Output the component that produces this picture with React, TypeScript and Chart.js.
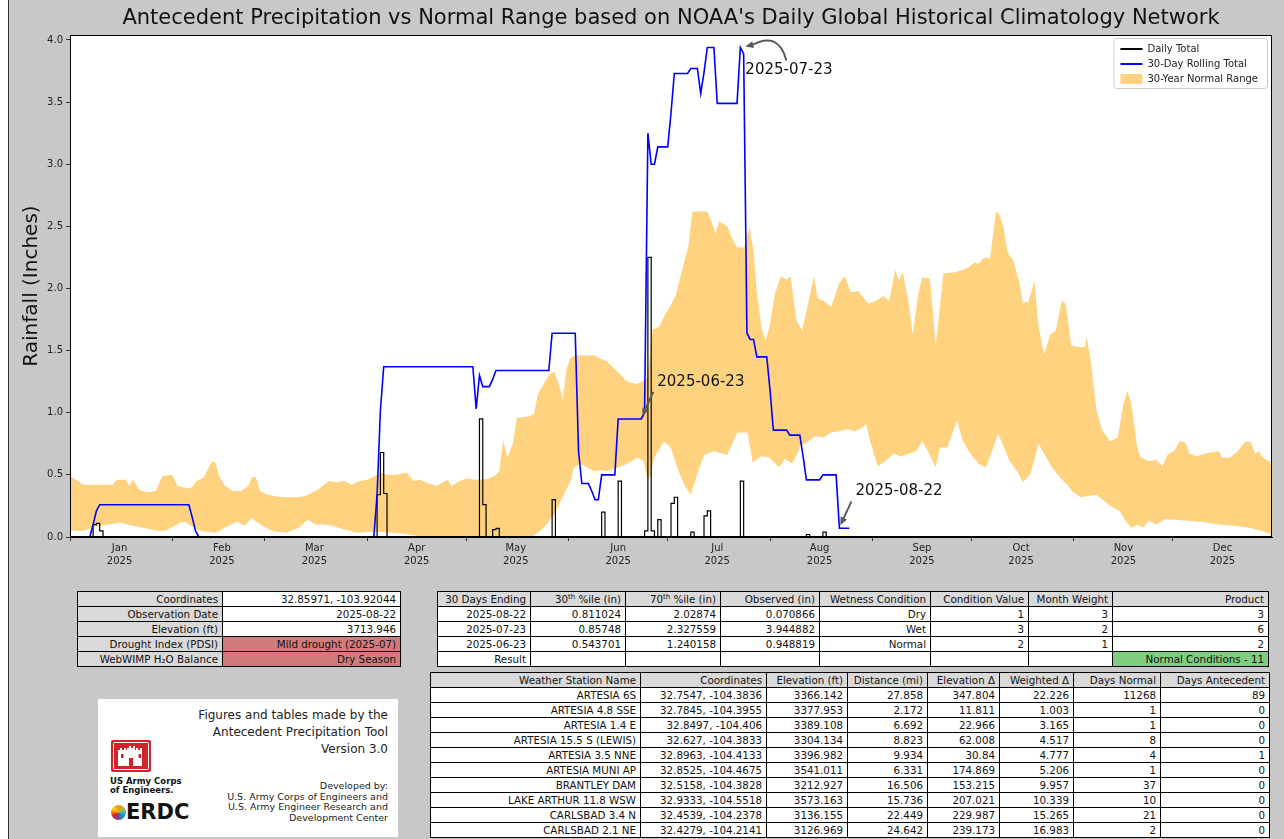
import React, { useEffect, useRef } from "react";
import { Chart, registerables } from "chart.js";
Chart.register(...registerables);

// ---------- chart text ----------
const chartTitle = "Antecedent Precipitation vs Normal Range based on NOAA's Daily Global Historical Climatology Network";
const yAxisTitle = "Rainfall (Inches)";
const monthLabels = ["Jan", "Feb", "Mar", "Apr", "May", "Jun", "Jul", "Aug", "Sep", "Oct", "Nov", "Dec"];
const yearLabel = "2025";
// day-of-year (0 = 2025-01-01)
const monthStartDays = [0, 31, 59, 90, 120, 151, 181, 212, 243, 273, 304, 334];
const monthLabelDays = [15, 46, 74, 105, 135, 166, 196, 227, 258, 288, 319, 349];
const yTickValues = [0, 0.5, 1, 1.5, 2, 2.5, 3, 3.5, 4];
const xMinDay = 0;
const xMaxDay = 364;
const yMax = 4.04;

// ---------- daily total (days with rain; all other days 0) ----------
const lastDataDay = 236;
const rainDays = [7, 8, 9, 93, 94, 95, 124, 125, 128, 129, 146, 161, 166, 174, 175, 176, 178, 182, 183, 188, 192, 193, 203, 223, 228];
const rainAmounts = [0.1, 0.11, 0.05, 0.34, 0.68, 0.35, 0.95, 0.26, 0.06, 0.07, 0.3, 0.2, 0.45, 0.05, 2.25, 0.05, 0.14, 0.27, 0.32, 0.04, 0.17, 0.21, 0.45, 0.02, 0.04];

// ---------- 30-day rolling total (vertices) ----------
const rollingDays = [0, 6, 7, 8, 9, 36, 37, 38, 39, 92, 93, 94, 95, 122, 123, 124, 125, 127, 128, 129, 145, 146, 153, 154, 155, 157, 158, 159, 160, 161, 165, 166, 173, 174, 175, 176, 177, 178, 181, 182, 183, 187, 188, 190, 191, 192, 193, 195, 196, 202, 203, 204, 205, 206, 207, 208, 211, 212, 213, 217, 218, 221, 222, 223, 227, 228, 232, 233, 236];
const rollingValues = [0, 0, 0.1, 0.21, 0.26, 0.26, 0.16, 0.05, 0, 0, 0.34, 1.02, 1.37, 1.37, 1.03, 1.3, 1.21, 1.21, 1.27, 1.34, 1.34, 1.64, 1.64, 0.69, 0.43, 0.43, 0.37, 0.3, 0.3, 0.5, 0.5, 0.95, 0.95, 1.0, 3.25, 3.0, 3.0, 3.14, 3.14, 3.41, 3.73, 3.73, 3.77, 3.77, 3.57, 3.74, 3.94, 3.94, 3.49, 3.49, 3.94, 3.89, 1.64, 1.59, 1.59, 1.45, 1.45, 1.18, 0.86, 0.86, 0.82, 0.82, 0.65, 0.46, 0.46, 0.5, 0.5, 0.07, 0.07];

// ---------- 30-year normal range ----------
const normalUpperDays = [0, 3, 4, 13, 14, 17, 18, 19, 21, 23, 26, 28, 31, 32.5, 34, 36.6, 38.3, 40.6, 41.8, 43, 44, 45.3, 47, 49.3, 51.7, 54, 55, 56.3, 57.5, 60, 64, 69, 71.4, 75, 78.4, 80.7, 83, 85.3, 87.7, 90, 92.3, 94, 96, 99, 102, 104, 106, 108.6, 111, 113, 114.4, 115.5, 118, 120, 122.5, 125, 127, 129, 130, 131.2, 132.4, 134.1, 135.3, 139, 140.5, 141.7, 143.4, 145.2, 146.6, 147.8, 149.3, 150.3, 151.5, 153, 158.7, 162.7, 165.8, 168.8, 171.8, 174.9, 176.4, 178.4, 180.4, 181.8, 183.5, 186, 187.2, 188.5, 193, 194.5, 195.5, 196.6, 199, 200.6, 202, 204.2, 205.7, 207, 208, 209.4, 210.6, 211.8, 213.5, 215.3, 217, 218.2, 220, 221.7, 223.5, 225.3, 226.4, 228.2, 230.5, 232.9, 234.6, 236.4, 238.7, 239.9, 241.7, 244, 246.4, 248.1, 249.9, 251, 252.2, 254, 255.2, 256.9, 258.1, 260.4, 262.2, 263.4, 264.5, 268, 270.4, 272.2, 273.9, 275.1, 276.8, 278.6, 280.4, 281.5, 282.7, 283.9, 285.6, 287.4, 288.6, 290.3, 292.1, 293.3, 295, 296.8, 298.5, 300.3, 301.5, 303.2, 305.6, 307.3, 307.9, 309.1, 310.8, 312.6, 314.9, 317.3, 319, 320.2, 321.4, 323.2, 324.3, 326.7, 329, 330.8, 332.5, 334.3, 336, 337.8, 339, 341.3, 343.7, 345.4, 347.8, 348.9, 351.3, 353.6, 356, 357.7, 358.9, 360.1, 361.2, 363, 364];
const normalUpperValues = [0.49, 0.44, 0.42, 0.42, 0.46, 0.46, 0.41, 0.46, 0.38, 0.36, 0.37, 0.49, 0.5, 0.41, 0.4, 0.39, 0.45, 0.48, 0.55, 0.61, 0.6, 0.48, 0.41, 0.37, 0.37, 0.41, 0.48, 0.48, 0.37, 0.34, 0.32, 0.32, 0.33, 0.38, 0.45, 0.44, 0.45, 0.42, 0.45, 0.46, 0.49, 0.52, 0.5, 0.5, 0.52, 0.45, 0.46, 0.43, 0.41, 0.44, 0.46, 0.41, 0.45, 0.47, 0.46, 0.46, 0.47, 0.5, 0.53, 0.78, 0.64, 0.75, 0.96, 0.97, 0.99, 1.15, 1.23, 1.31, 1.33, 1.25, 1.1, 1.35, 1.44, 1.46, 1.46, 1.41, 1.33, 1.25, 1.23, 1.28, 1.67, 1.69, 1.8, 1.86, 1.95, 2.22, 2.33, 2.62, 2.62, 2.52, 2.44, 2.54, 2.5, 2.4, 2.33, 2.33, 2.5, 2.3, 1.97, 1.69, 1.58, 1.69, 1.96, 2.1, 2.07, 2.1, 1.74, 1.66, 1.88, 2.1, 1.92, 1.9, 1.85, 2.04, 2.1, 1.97, 1.98, 1.94, 1.88, 1.9, 1.94, 1.9, 2.15, 2.06, 2.13, 1.88, 1.63, 1.96, 2.09, 2.08, 1.54, 1.85, 2.12, 2.13, 2.15, 2.17, 2.21, 2.2, 2.25, 2.24, 2.62, 2.59, 2.49, 2.29, 2.23, 2.06, 1.88, 1.9, 2.06, 1.69, 1.47, 1.63, 1.66, 1.9, 1.88, 1.54, 1.53, 1.53, 1.61, 1.42, 1.03, 0.86, 0.77, 0.8, 1.07, 1.18, 1.07, 0.72, 0.64, 0.61, 0.62, 0.57, 0.67, 0.69, 0.77, 0.76, 0.67, 0.65, 0.67, 0.68, 0.69, 0.64, 0.64, 0.69, 0.77, 0.76, 0.67, 0.69, 0.64, 0.61, 0.6];
const normalLowerDays = [0, 4, 7.7, 11.5, 15.2, 19, 22.8, 26.6, 29, 33, 34.8, 36.6, 39.2, 44.2, 47.3, 50.5, 53, 55, 56.8, 59.3, 61.8, 65.6, 69.3, 72, 74.4, 77, 79.4, 83, 87, 92, 100, 105, 110, 140, 143.5, 146.6, 148.6, 151.6, 152.6, 154.6, 156.7, 158.7, 160.7, 162.7, 165.8, 168.8, 171.8, 173.8, 174.9, 175.9, 176.9, 179.9, 181.9, 184, 186, 188, 190, 192, 195, 199, 202.1, 205.2, 206.7, 209.4, 211.8, 214.7, 216.5, 218.8, 221.2, 223.5, 225.8, 228.2, 230.5, 232.9, 235.2, 237.6, 239.9, 241.1, 242.3, 244.6, 246.9, 249.3, 251.6, 254, 256.3, 258.1, 259.8, 262.2, 263.4, 265.7, 268.6, 270.4, 272.7, 275.1, 277.4, 279.2, 281, 282.1, 284.5, 286.8, 288.6, 290.9, 293.3, 295, 297.4, 299.7, 302, 303.8, 306.2, 308.5, 310.8, 313.2, 315.5, 317.9, 319.6, 321.4, 323.2, 324.9, 326.7, 329, 331.4, 333.7, 338.4, 343.1, 347.8, 352.5, 357.2, 360.7, 364];
const normalLowerValues = [0.05, 0.05, 0.08, 0.1, 0.115, 0.09, 0.07, 0.05, 0.05, 0.11, 0.125, 0.09, 0.05, 0.035, 0.08, 0.125, 0.09, 0.155, 0.115, 0.075, 0.045, 0.035, 0.075, 0.14, 0.1, 0.1, 0.09, 0.06, 0.035, 0.045, 0.03, 0.01, 0, 0, 0.075, 0.18, 0.29, 0.45, 0.56, 0.59, 0.56, 0.53, 0.54, 0.53, 0.56, 0.59, 0.64, 0.61, 0.45, 0.5, 0.64, 0.77, 0.72, 0.55, 0.42, 0.34, 0.51, 0.66, 0.69, 0.66, 0.84, 0.84, 0.6, 0.65, 0.64, 0.56, 0.63, 0.59, 0.73, 0.77, 0.81, 0.8, 0.84, 0.85, 0.87, 0.85, 0.88, 0.91, 0.77, 0.57, 0.61, 0.67, 0.65, 0.67, 0.69, 0.77, 0.69, 0.56, 0.72, 0.72, 0.94, 0.77, 0.67, 0.59, 0.56, 0.69, 0.83, 0.77, 0.61, 0.53, 0.44, 0.51, 0.75, 0.67, 0.56, 0.48, 0.42, 0.36, 0.32, 0.33, 0.34, 0.29, 0.24, 0.21, 0.13, 0.075, 0.1, 0.075, 0.13, 0.1, 0.14, 0.14, 0.13, 0.12, 0.1, 0.09, 0.075, 0.05, 0.02];

// ---------- annotations ----------
const annotationDays = [203, 173, 233];
const annotationLabels = ["2025-07-23", "2025-06-23", "2025-08-22"];

// ---------- tables ----------
const siteLabels = ["Coordinates", "Observation Date", "Elevation (ft)", "Drought Index (PDSI)", "WebWIMP H\u2082O Balance"];
const siteValues = ["32.85971, -103.92044", "2025-08-22", "3713.946", "Mild drought (2025-07)", "Dry Season"];
const siteFlagged = [false, false, false, true, true];

const conditionHeaders = ["30 Days Ending", "30|th| %ile (in)", "70|th| %ile (in)", "Observed (in)", "Wetness Condition", "Condition Value", "Month Weight", "Product"];
const conditionRows = [
  ["2025-08-22", "0.811024", "2.02874", "0.070866", "Dry", "1", "3", "3"],
  ["2025-07-23", "0.85748", "2.327559", "3.944882", "Wet", "3", "2", "6"],
  ["2025-06-23", "0.543701", "1.240158", "0.948819", "Normal", "2", "1", "2"],
];
const resultLabel = "Result";
const resultValue = "Normal Conditions - 11";

const stationHeaders = ["Weather Station Name", "Coordinates", "Elevation (ft)", "Distance (mi)", "Elevation \u0394", "Weighted \u0394", "Days Normal", "Days Antecedent"];
const stationRows = [
  ["ARTESIA 6S", "32.7547, -104.3836", "3366.142", "27.858", "347.804", "22.226", "11268", "89"],
  ["ARTESIA 4.8 SSE", "32.7845, -104.3955", "3377.953", "2.172", "11.811", "1.003", "1", "0"],
  ["ARTESIA 1.4 E", "32.8497, -104.406", "3389.108", "6.692", "22.966", "3.165", "1", "0"],
  ["ARTESIA 15.5 S (LEWIS)", "32.627, -104.3833", "3304.134", "8.823", "62.008", "4.517", "8", "0"],
  ["ARTESIA 3.5 NNE", "32.8963, -104.4133", "3396.982", "9.934", "30.84", "4.777", "4", "1"],
  ["ARTESIA MUNI AP", "32.8525, -104.4675", "3541.011", "6.331", "174.869", "5.206", "1", "0"],
  ["BRANTLEY DAM", "32.5158, -104.3828", "3212.927", "16.506", "153.215", "9.957", "37", "0"],
  ["LAKE ARTHUR 11.8 WSW", "32.9333, -104.5518", "3573.163", "15.736", "207.021", "10.339", "10", "0"],
  ["CARLSBAD 3.4 N", "32.4539, -104.2378", "3136.155", "22.449", "229.987", "15.265", "21", "0"],
  ["CARLSBAD 2.1 NE", "32.4279, -104.2141", "3126.969", "24.642", "239.173", "16.983", "2", "0"],
];

const creditLines = ["Figures and tables made by the", "Antecedent Precipitation Tool", "Version 3.0"];
const developerLines = ["Developed by:", "U.S. Army Corps of Engineers and", "U.S. Army Engineer Research and", "Development Center"];

const FONT = "'DejaVu Sans', 'Liberation Sans', sans-serif";
const BAND_COLOR = "rgba(255,165,0,0.5)";

function buildDaily() {
  const pts: { x: number; y: number }[] = [];
  for (let d = xMinDay; d <= lastDataDay; d++) {
    const k = rainDays.indexOf(d);
    pts.push({ x: d, y: k >= 0 ? rainAmounts[k] : 0 });
  }
  return pts;
}
const zip = (xs: number[], ys: number[]) => xs.map((x, i) => ({ x, y: ys[i] }));

const backgroundPlugin = {
  id: "bgAndLegendFrame",
  afterLayout(chart: any) {
    const lg = chart.legend;
    if (!lg) return;
    const ca = chart.chartArea;
    const w = lg.width;
    lg.left = ca.right - w - 4;
    lg.right = lg.left + w;
    lg.top = ca.top + 4;
    lg.bottom = lg.top + lg.height;
  },
  beforeDraw(chart: any) {
    const { ctx, chartArea: ca } = chart;
    ctx.save();
    ctx.fillStyle = "#ffffff";
    ctx.fillRect(ca.left, ca.top, ca.right - ca.left, ca.bottom - ca.top);
    const hb = chart.legend && chart.legend.legendHitBoxes;
    if (hb && hb.length) {
      const l = Math.min(...hb.map((h: any) => h.left)) - 7;
      const t = Math.min(...hb.map((h: any) => h.top)) - 6;
      const r = Math.max(...hb.map((h: any) => h.left + h.width)) + 9;
      const b = Math.max(...hb.map((h: any) => h.top + h.height)) + 4;
      ctx.beginPath();
      ctx.roundRect(l + 0.5, t + 0.5, r - l, b - t, 3);
      ctx.fillStyle = "rgba(255,255,255,0.9)";
      ctx.fill();
      ctx.strokeStyle = "#cccccc";
      ctx.lineWidth = 1;
      ctx.stroke();
    }
    ctx.restore();
  },
  afterDatasetsDraw(chart: any) {
    const { ctx, chartArea: ca } = chart;
    ctx.save();
    ctx.strokeStyle = "#000";
    ctx.lineWidth = 1;
    ctx.strokeRect(Math.round(ca.left) + 0.5, Math.round(ca.top) + 0.5, Math.round(ca.right - ca.left) - 1, Math.round(ca.bottom - ca.top) - 1);
    ctx.restore();
  },
};

function arrowHead(ctx: CanvasRenderingContext2D, fx: number, fy: number, tx: number, ty: number) {
  const ang = Math.atan2(ty - fy, tx - fx);
  const len = 8, half = 3.5;
  ctx.beginPath();
  ctx.moveTo(tx, ty);
  ctx.lineTo(tx - len * Math.cos(ang) + half * Math.sin(ang), ty - len * Math.sin(ang) - half * Math.cos(ang));
  ctx.lineTo(tx - len * Math.cos(ang) - half * Math.sin(ang), ty - len * Math.sin(ang) + half * Math.cos(ang));
  ctx.closePath();
  ctx.fill();
}

const annotationPlugin = {
  id: "dateAnnotations",
  afterDatasetsDraw(chart: any) {
    const { ctx } = chart;
    const xs = chart.scales.x, ys = chart.scales.y;
    ctx.save();
    ctx.font = `15px ${FONT}`;
    ctx.textBaseline = "middle";
    ctx.textAlign = "left";
    annotationDays.forEach((day, i) => {
      const v = rollingValues[rollingDays.indexOf(day)];
      const px = xs.getPixelForValue(day);
      const py = ys.getPixelForValue(v);
      ctx.strokeStyle = "#5a5a5a";
      ctx.fillStyle = "#5a5a5a";
      ctx.lineWidth = 2;
      if (i === 0) {
        const sx = px + 46, sy = py + 13, cx = px + 38, cy = py - 17, ex = px + 5, ey = py - 1;
        ctx.beginPath();
        ctx.moveTo(sx, sy);
        ctx.quadraticCurveTo(cx, cy, ex + 6, ey - 1);
        ctx.stroke();
        arrowHead(ctx, cx, cy + 8, ex, ey);
        ctx.fillStyle = "#111";
        ctx.fillText(annotationLabels[i], px + 5, py + 23);
      } else {
        const sx = px + 12, sy = py - 27, ex = px + 1, ey = py - 3;
        const ang = Math.atan2(ey - sy, ex - sx);
        ctx.beginPath();
        ctx.moveTo(sx, sy);
        ctx.lineTo(ex - 6 * Math.cos(ang), ey - 6 * Math.sin(ang));
        ctx.stroke();
        arrowHead(ctx, sx, sy, ex, ey);
        ctx.fillStyle = "#111";
        ctx.fillText(annotationLabels[i], px + 16, py - 37);
      }
    });
    ctx.restore();
  },
};

function PrecipChart() {
  const ref = useRef<HTMLCanvasElement>(null);
  useEffect(() => {
    Chart.defaults.font.family = FONT;
    const chart = new Chart(ref.current as HTMLCanvasElement, {
      type: "line",
      data: {
        datasets: [
          {
            label: "Daily Total",
            data: buildDaily(),
            borderColor: "#000000",
            backgroundColor: "#000000",
            borderWidth: 1.2,
            stepped: "before",
            pointRadius: 0,
            fill: false,
            order: 1,
          },
          {
            label: "30-Day Rolling Total",
            data: zip(rollingDays, rollingValues),
            borderColor: "#0000ff",
            backgroundColor: "#0000ff",
            borderWidth: 1.6,
            pointRadius: 0,
            tension: 0,
            fill: false,
            order: 0,
          },
          {
            label: "30-Year Normal Range",
            data: zip(normalUpperDays, normalUpperValues),
            borderColor: "rgba(0,0,0,0)",
            backgroundColor: BAND_COLOR,
            borderWidth: 0,
            pointRadius: 0,
            tension: 0,
            fill: "+1",
            order: 2,
          },
          {
            label: "normal-lower",
            data: zip(normalLowerDays, normalLowerValues),
            borderColor: "rgba(0,0,0,0)",
            backgroundColor: "rgba(0,0,0,0)",
            borderWidth: 0,
            pointRadius: 0,
            tension: 0,
            fill: false,
            order: 3,
          },
        ],
      } as any,
      options: {
        responsive: false,
        animation: false,
        events: [],
        layout: { padding: { left: 0, right: 12, top: 0, bottom: 0 } },
        scales: {
          x: {
            type: "linear",
            min: xMinDay,
            max: xMaxDay,
            afterBuildTicks: (s: any) => {
              s.ticks = [...monthStartDays, ...monthLabelDays].sort((a, b) => a - b).map((v) => ({ value: v }));
            },
            afterFit: (s: any) => {
              s.height = 48;
            },
            ticks: {
              autoSkip: false,
              maxRotation: 0,
              minRotation: 0,
              padding: 1,
              color: "#222",
              font: { size: 10, lineHeight: 1.3 },
              callback: (v: any) => {
                const k = monthLabelDays.indexOf(Number(v));
                return k >= 0 ? [monthLabels[k], yearLabel] : "";
              },
            },
            grid: {
              drawOnChartArea: false,
              drawTicks: true,
              tickLength: 4,
              tickColor: (c: any) => (c.tick && monthLabelDays.indexOf(c.tick.value) >= 0 ? "rgba(0,0,0,0)" : "#333"),
            },
            border: { display: true, color: "#000", width: 1 },
          },
          y: {
            type: "linear",
            min: 0,
            max: yMax,
            afterBuildTicks: (s: any) => {
              s.ticks = yTickValues.map((v) => ({ value: v }));
            },
            afterFit: (s: any) => {
              s.width = 62;
            },
            ticks: {
              padding: 3,
              color: "#222",
              font: { size: 10 },
              callback: (v: any) => Number(v).toFixed(1),
            },
            grid: { drawOnChartArea: false, drawTicks: true, tickLength: 4, tickColor: "#333" },
            border: { display: true, color: "#000", width: 1 },
            title: {
              display: true,
              text: yAxisTitle,
              color: "#111",
              font: { size: 20 },
              padding: { top: 12, bottom: 0 },
            },
          },
        },
        plugins: {
          title: {
            display: true,
            text: chartTitle,
            fullSize: false,
            color: "#111",
            font: { size: 21, weight: "normal" },
            padding: { top: 6, bottom: 3.8 },
          },
          legend: {
            display: true,
            position: "chartArea",
            align: "start",
            labels: {
              usePointStyle: true,
              pointStyleWidth: 22,
              boxHeight: 10,
              padding: 5,
              color: "#222",
              font: { size: 10 },
              generateLabels: (ch: any) =>
                [0, 1, 2].map((i) => {
                  const ds = ch.data.datasets[i];
                  const band = i === 2;
                  return {
                    text: ds.label,
                    datasetIndex: i,
                    fillStyle: band ? ds.backgroundColor : ds.borderColor,
                    strokeStyle: band ? "rgba(0,0,0,0)" : ds.borderColor,
                    lineWidth: band ? 0 : 2,
                    pointStyle: band ? "rect" : "line",
                    hidden: false,
                    fontColor: "#222",
                  };
                }),
            },
          },
          tooltip: { enabled: false },
        },
      } as any,
      plugins: [backgroundPlugin, annotationPlugin],
    });
    return () => chart.destroy();
  }, []);
  return <canvas ref={ref} width={1276} height={585} style={{ position: "absolute", left: 0, top: 0, width: 1276, height: 585 }} />;
}

const cell: React.CSSProperties = {
  border: "1px solid #000",
  padding: "0 4px",
  textAlign: "right",
  whiteSpace: "nowrap",
  overflow: "hidden",
  height: 14,
  lineHeight: "14px",
  fontSize: 10.3,
  color: "#111",
};
const HEAD_BG = "#d9d9d9";
const RED_BG = "#d07c7c";
const GREEN_BG = "#80cc80";

function headerText(h: string) {
  const parts = h.split("|");
  if (parts.length === 3) {
    return (
      <span>
        {parts[0]}
        <sup style={{ fontSize: 7, lineHeight: 0 }}>{parts[1]}</sup>
        {parts[2]}
      </span>
    );
  }
  return h;
}

function Table({ left, top, widths, children }: { left: number; top: number; widths: number[]; children: any }) {
  return (
    <table
      style={{
        position: "absolute",
        left,
        top,
        borderCollapse: "collapse",
        tableLayout: "fixed",
        width: widths.reduce((a, b) => a + b, 0),
        fontFamily: FONT,
      }}
    >
      <colgroup>
        {widths.map((w, i) => (
          <col key={i} style={{ width: w }} />
        ))}
      </colgroup>
      <tbody>{children}</tbody>
    </table>
  );
}

function Castle() {
  return (
    <svg width="40" height="32" viewBox="0 0 40 32" style={{ position: "absolute", left: 13, top: 41 }}>
      <rect x="0" y="0" width="40" height="32" rx="2" fill="#d2232a" />
      <rect x="2.5" y="2.5" width="35" height="27" rx="1" fill="none" stroke="#fff" strokeWidth="1" />
      <path d="M7 26 V10 h2 v-2 h2 v2 h2 v-2 h2 v2 h1 V8 h2 v-2 h2 v2 h2 v-2 h2 v2 V10 h1 v-2 h2 v2 h2 v-2 h2 v2 V26 Z" fill="#fff" />
      <rect x="18" y="18" width="4" height="8" fill="#d2232a" />
      <rect x="10" y="14" width="2.5" height="4" fill="#d2232a" />
      <rect x="27.5" y="14" width="2.5" height="4" fill="#d2232a" />
    </svg>
  );
}

export default function App() {
  return (
    <div style={{ position: "absolute", left: 8, top: 0, width: 1276, height: 839, background: "#c8c8c8", overflow: "hidden", fontFamily: FONT }}>
      <div style={{ position: "absolute", left: 0, top: 0, width: 1, height: 839, background: "#333" }} />
      <PrecipChart />

      <Table left={69} top={591} widths={[145, 178]}>
        {siteLabels.map((lab, i) => (
          <tr key={i}>
            <td style={{ ...cell, background: HEAD_BG }}>{lab}</td>
            <td style={{ ...cell, background: siteFlagged[i] ? RED_BG : "#fff" }}>{siteValues[i]}</td>
          </tr>
        ))}
      </Table>

      <Table left={429} top={591} widths={[93, 95, 95, 99, 111, 98, 84, 156]}>
        <tr>
          {conditionHeaders.map((h, i) => (
            <td key={i} style={{ ...cell, background: HEAD_BG }}>
              {headerText(h)}
            </td>
          ))}
        </tr>
        {conditionRows.map((r, i) => (
          <tr key={i}>
            {r.map((c, j) => (
              <td key={j} style={{ ...cell, background: "#fff" }}>
                {c}
              </td>
            ))}
          </tr>
        ))}
        <tr>
          {conditionHeaders.map((_, j) => (
            <td key={j} style={{ ...cell, background: j === conditionHeaders.length - 1 ? GREEN_BG : "#fff" }}>
              {j === 0 ? resultLabel : j === conditionHeaders.length - 1 ? resultValue : ""}
            </td>
          ))}
        </tr>
      </Table>

      <Table left={422} top={672} widths={[210, 126, 81, 80, 72, 74, 87, 109]}>
        <tr>
          {stationHeaders.map((h, i) => (
            <td key={i} style={{ ...cell, background: HEAD_BG }}>
              {h}
            </td>
          ))}
        </tr>
        {stationRows.map((r, i) => (
          <tr key={i}>
            {r.map((c, j) => (
              <td key={j} style={{ ...cell, background: "#fff" }}>
                {c}
              </td>
            ))}
          </tr>
        ))}
      </Table>

      <div style={{ position: "absolute", left: 90, top: 699, width: 300, height: 138, background: "#fff" }}>
        <div style={{ position: "absolute", right: 10, top: 8, textAlign: "right", fontSize: 12, lineHeight: "17px", color: "#222" }}>
          {creditLines.map((t, i) => (
            <div key={i}>{t}</div>
          ))}
        </div>
        <div style={{ position: "absolute", right: 10, top: 82, textAlign: "right", fontSize: 9.5, lineHeight: "10.6px", color: "#222" }}>
          {developerLines.map((t, i) => (
            <div key={i}>{t}</div>
          ))}
        </div>
        <Castle />
        <div style={{ position: "absolute", left: 12, top: 78, fontSize: 8.5, lineHeight: "9px", fontWeight: "bold", color: "#111" }}>
          <div>US Army Corps</div>
          <div>of Engineers.</div>
        </div>
        <div
          style={{
            position: "absolute",
            left: 13,
            top: 106,
            width: 15,
            height: 15,
            borderRadius: "50%",
            background: "conic-gradient(#f7941d, #8dc63f, #00a3e0, #6a4c9c, #e31b23, #ffd200, #f7941d)",
          }}
        />
        <div style={{ position: "absolute", left: 28, top: 101, fontSize: 21, lineHeight: "24px", fontWeight: "bold", color: "#111" }}>ERDC</div>
      </div>
    </div>
  );
}
